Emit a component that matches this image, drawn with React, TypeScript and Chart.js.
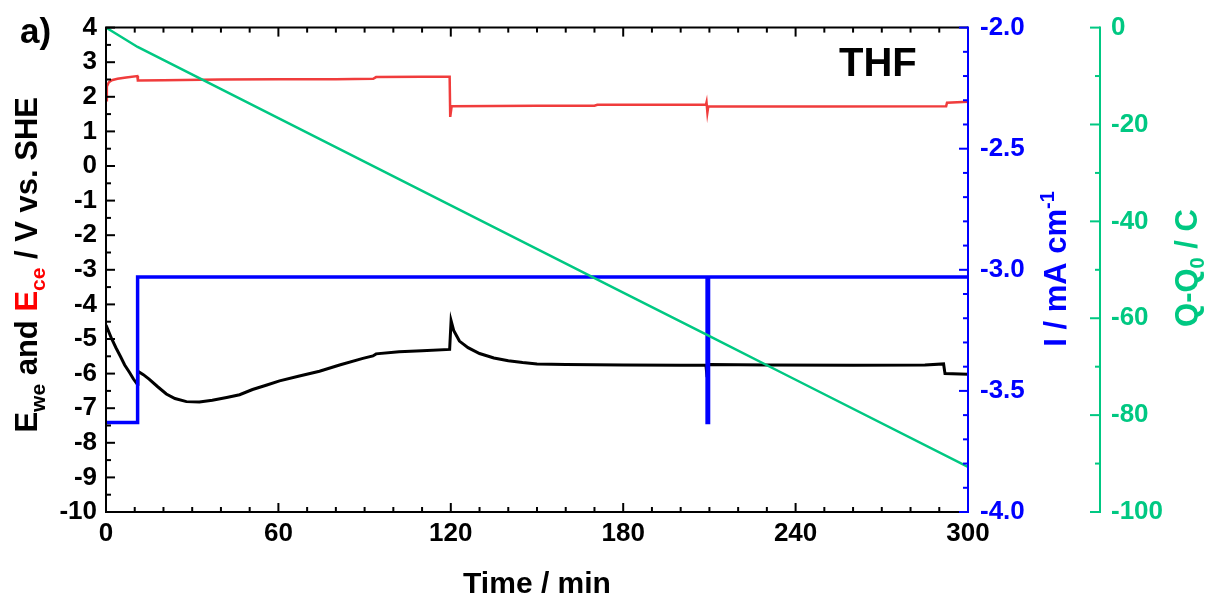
import React, { useEffect, useRef } from 'react';
import { Chart, registerables } from 'chart.js';

Chart.register(...registerables);

const FONT = '"Liberation Sans", Arial, Helvetica, sans-serif';
const BLUE = '#0000ff';
const GREEN = '#00c882';
const RED_LINE = '#f03c3c';
const RED_TEXT = '#ff0000';

// Working electrode potential (black), V vs. SHE
const timeWe = [0, 1, 2, 3.5, 5, 6.5, 8.2, 9.5, 10.9, 11.1, 13, 15, 18, 21, 24, 28, 32.5, 37, 42, 46.5, 51, 56, 60.4, 67.3, 74.3, 81.3, 89.4, 92.9, 94, 102, 110, 119.6, 120.1, 121, 123, 126, 130, 135, 140, 145, 150, 160, 180, 200, 208.8, 209.2, 209.6, 210.2, 230, 260, 285, 291.5, 292, 300];
const eWe = [-4.6, -4.8, -5.0, -5.26, -5.5, -5.75, -5.97, -6.15, -6.31, -5.93, -6.03, -6.16, -6.38, -6.59, -6.72, -6.81, -6.82, -6.77, -6.69, -6.61, -6.46, -6.33, -6.21, -6.07, -5.93, -5.75, -5.56, -5.49, -5.43, -5.37, -5.34, -5.3, -4.47, -4.75, -5.06, -5.25, -5.42, -5.55, -5.63, -5.68, -5.72, -5.74, -5.75, -5.76, -5.76, -6.1, -5.76, -5.74, -5.75, -5.76, -5.75, -5.72, -6.0, -6.02];

// Counter electrode potential (red), V vs. SHE
const timeCe = [0, 0.3, 1, 2, 4, 7, 10.9, 11.1, 20, 40, 60, 80, 93, 94, 110, 119.6, 119.8, 120.3, 150, 170, 171, 208.8, 209, 209.3, 209.6, 250, 292.4, 292.7, 300];
const eCe = [1.9, 2.3, 2.42, 2.48, 2.52, 2.56, 2.6, 2.47, 2.48, 2.5, 2.51, 2.51, 2.52, 2.57, 2.58, 2.58, 1.42, 1.73, 1.74, 1.74, 1.77, 1.77, 1.84, 1.55, 1.72, 1.72, 1.73, 1.83, 1.86];

// Current density (blue), mA cm-1
const timeI = [0, 11, 11, 209.2, 209.2, 209.7, 209.7, 300];
const currentI = [-3.63, -3.63, -3.03, -3.03, -3.63, -3.63, -3.03, -3.03];

// Charge Q - Q0 (green), C
const timeQ = [0, 5.5, 11, 60, 120, 180, 209, 240, 300];
const chargeQ = [0, -2.0, -4.0, -18.7, -36.7, -54.7, -63.4, -72.7, -90.7];

const toPts = (xs: number[], ys: number[]) => xs.map((x, i) => ({ x, y: ys[i] }));

type Seg = { text: string; size: number; color: string; dy?: number };

function drawSegs(ctx: CanvasRenderingContext2D, segs: Seg[], cx: number, baseY: number) {
  ctx.textAlign = 'left';
  ctx.textBaseline = 'alphabetic';
  const widths = segs.map((s) => {
    ctx.font = `bold ${s.size}px ${FONT}`;
    return ctx.measureText(s.text).width;
  });
  const total = widths.reduce((a, b) => a + b, 0);
  let x = cx - total / 2;
  segs.forEach((s, i) => {
    ctx.font = `bold ${s.size}px ${FONT}`;
    ctx.fillStyle = s.color;
    ctx.fillText(s.text, x, baseY + (s.dy || 0));
    x += widths[i];
  });
}

function drawRotated(ctx: CanvasRenderingContext2D, segs: Seg[], px: number, py: number) {
  ctx.save();
  ctx.translate(px, py);
  ctx.rotate(-Math.PI / 2);
  drawSegs(ctx, segs, 0, 0);
  ctx.restore();
}

const framePlugin = {
  id: 'frame',
  afterDatasetsDraw(chart: any) {
    const { ctx, chartArea: ca, scales } = chart;
    const sx = scales.x;
    const sy = scales.y;
    const sy1 = scales.y1;
    const sy2 = scales.y2;
    const line = (x1: number, y1: number, x2: number, y2: number) => {
      ctx.beginPath();
      ctx.moveTo(x1, y1);
      ctx.lineTo(x2, y2);
      ctx.stroke();
    };
    ctx.save();
    ctx.lineWidth = 2;
    ctx.lineCap = 'butt';
    ctx.strokeStyle = '#000';
    line(ca.left - 1, ca.top, ca.right, ca.top);
    line(ca.left - 1, ca.bottom, ca.right, ca.bottom);
    line(ca.left, ca.top, ca.left, ca.bottom);
    for (let i = 0; i <= 30; i++) {
      const px = sx.getPixelForValue(i * 10);
      const len = i % 6 === 0 ? 9 : 5;
      line(px, ca.bottom, px, ca.bottom - len);
      line(px, ca.top, px, ca.top + len);
    }
    for (let i = 0; i <= 28; i++) {
      const py = sy.getPixelForValue(-10 + i * 0.5);
      const len = i % 2 === 0 ? 9 : 5;
      line(ca.left, py, ca.left + len, py);
    }
    ctx.strokeStyle = BLUE;
    line(ca.right, ca.top - 1, ca.right, ca.bottom + 1);
    for (let i = 0; i <= 20; i++) {
      const py = sy1.getPixelForValue(-4 + i * 0.1);
      const len = i % 5 === 0 ? 9 : 5;
      line(ca.right, py, ca.right - len, py);
    }
    ctx.strokeStyle = GREEN;
    const gx = sy2.left;
    line(gx, ca.top - 1, gx, ca.bottom + 1);
    for (let i = 0; i <= 10; i++) {
      const py = sy2.getPixelForValue(-100 + i * 10);
      const len = i % 2 === 0 ? 10 : 5;
      line(gx, py, gx - len, py);
    }
    ctx.restore();
  },
  afterDraw(chart: any) {
    const { ctx, chartArea: ca } = chart;
    ctx.save();
    // left axis title
    drawRotated(ctx, [
      { text: 'E', size: 31, color: '#000' },
      { text: 'we', size: 21, color: '#000', dy: 8 },
      { text: ' and ', size: 31, color: '#000' },
      { text: 'E', size: 31, color: RED_TEXT },
      { text: 'ce', size: 21, color: RED_TEXT, dy: 8 },
      { text: ' / V vs. SHE', size: 31, color: '#000' },
    ], 37, (ca.top + ca.bottom) / 2 - 5);
    // blue axis title
    drawRotated(ctx, [
      { text: 'I / mA cm', size: 31, color: BLUE },
      { text: '-1', size: 20, color: BLUE, dy: -12 },
    ], 1066, 269);
    // green axis title
    drawRotated(ctx, [
      { text: 'Q-Q', size: 31, color: GREEN },
      { text: '0', size: 20, color: GREEN, dy: 7 },
      { text: ' / C', size: 31, color: GREEN },
    ], 1197, 268);
    // x title
    drawSegs(ctx, [{ text: 'Time / min', size: 30, color: '#000' }], (ca.left + ca.right) / 2, 593);
    // panel label and annotation
    ctx.font = `bold 35px ${FONT}`;
    ctx.fillStyle = '#000';
    ctx.textAlign = 'left';
    ctx.textBaseline = 'alphabetic';
    ctx.fillText('a)', 20, 43);
    ctx.font = `bold 40px ${FONT}`;
    ctx.fillText('THF', 839, 76);
    ctx.restore();
  },
};

export default function App() {
  const ref = useRef<HTMLCanvasElement>(null);
  useEffect(() => {
    if (!ref.current) return;
    const tickFont = { family: FONT, size: 26, weight: 'bold' as const };
    const chart = new Chart(ref.current, {
      type: 'line',
      data: {
        datasets: [
          { data: toPts(timeQ, chargeQ), yAxisID: 'y2', borderColor: GREEN, borderWidth: 2.5, pointRadius: 0, tension: 0 },
          { data: toPts(timeI, currentI), yAxisID: 'y1', borderColor: BLUE, borderWidth: 3.5, pointRadius: 0, tension: 0 },
          { data: toPts(timeCe, eCe), yAxisID: 'y', borderColor: RED_LINE, borderWidth: 2.5, pointRadius: 0, tension: 0 },
          { data: toPts(timeWe, eWe), yAxisID: 'y', borderColor: '#000', borderWidth: 3, pointRadius: 0, tension: 0 },
        ],
      },
      options: {
        responsive: false,
        animation: false,
        devicePixelRatio: 1,
        layout: { padding: { top: 24, left: 0, right: 0, bottom: 0 } },
        plugins: { legend: { display: false }, tooltip: { enabled: false }, title: { display: false } },
        scales: {
          x: {
            type: 'linear', position: 'bottom', min: 0, max: 300,
            afterFit: (s: any) => { s.height = 89; },
            grid: { display: false, drawTicks: false }, border: { display: false },
            ticks: { stepSize: 60, padding: 6, color: '#000', font: tickFont, maxRotation: 0, autoSkip: false },
          },
          y: {
            type: 'linear', position: 'left', min: -10, max: 4,
            afterFit: (s: any) => { s.width = 106; },
            grid: { display: false, drawTicks: false }, border: { display: false },
            ticks: { stepSize: 1, padding: 9, color: '#000', font: tickFont, autoSkip: false },
          },
          y1: {
            type: 'linear', position: 'right', min: -4, max: -2, weight: 0,
            afterFit: (s: any) => { s.width = 132; },
            grid: { display: false, drawTicks: false }, border: { display: false },
            ticks: { stepSize: 0.5, padding: 12, color: BLUE, font: tickFont, autoSkip: false, callback: (v: any) => Number(v).toFixed(1) },
          },
          y2: {
            type: 'linear', position: 'right', min: -100, max: 0, weight: 1,
            afterFit: (s: any) => { s.width = 113; },
            grid: { display: false, drawTicks: false }, border: { display: false },
            ticks: { stepSize: 20, padding: 11, color: GREEN, font: tickFont, autoSkip: false },
          },
        },
      } as any,
      plugins: [framePlugin],
    });
    return () => chart.destroy();
  }, []);
  return (
    <div style={{ position: 'absolute', left: 0, top: 0, width: 1213, height: 601 }}>
      <canvas ref={ref} width={1213} height={601} style={{ display: 'block' }} />
    </div>
  );
}
